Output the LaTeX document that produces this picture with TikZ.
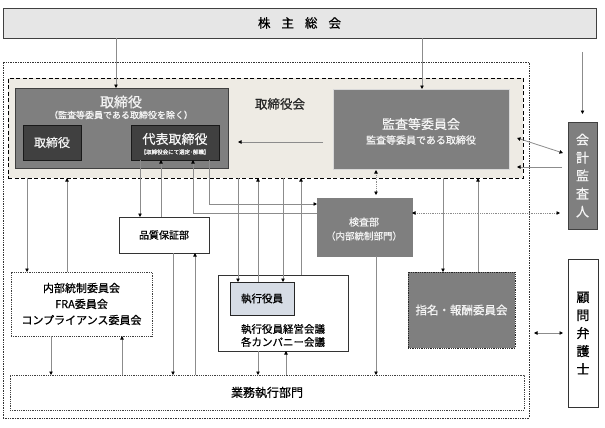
\documentclass[tikz,border=0pt]{standalone}
\usepackage{fontspec}
\newfontfamily\cjk[FakeBold=0.7]{Noto Sans CJK JP}
\usetikzlibrary{arrows.meta,calc}
\definecolor{gbox}{HTML}{7F7F7F}
\definecolor{dbox}{HTML}{404040}
\definecolor{beige}{HTML}{EEEBE4}
\definecolor{lgray}{HTML}{8C8C8C}
\definecolor{kabufill}{HTML}{E6E6E6}
\definecolor{bluegray}{HTML}{D6DCE5}
\definecolor{wtext}{HTML}{F4F4F4}
\newcommand\fsz[1]{\cjk\fontsize{#1}{#1}\selectfont}
\newcommand\fszl[2]{\cjk\fontsize{#1}{#2}\selectfont}
\tikzset{
  every node/.style={inner sep=0pt, outer sep=0pt, font=\cjk},
  kabubox/.style={draw=black!75, fill=kabufill, line width=0.8pt},
  groupbox/.style={draw=black!80, densely dotted, line width=0.7pt},
  boardbox/.style={draw=black, dash pattern=on 4pt off 2.5pt, line width=0.9pt, fill=beige},
  graybox/.style={fill=gbox, draw=black!75, line width=0.8pt},
  kansabox/.style={fill=gbox, draw=black!15, line width=0.8pt},
  plaingray/.style={fill=gbox, draw=gbox, line width=0.6pt},
  darkbox/.style={fill=dbox, draw=black!90, line width=0.8pt},
  whitebox/.style={fill=white, draw=black!80, line width=0.8pt},
  dotbox/.style={fill=white, draw=black!75, densely dotted, line width=0.8pt},
  dotgray/.style={fill=gbox, draw=black!85, densely dotted, line width=0.8pt},
  bluebox/.style={fill=bluegray, draw=black!85, line width=0.8pt},
  conn/.style={draw=lgray, line width=0.8pt},
  arr/.style={conn, -{Triangle[length=3.5pt,width=3.5pt,color=black]}},
  darr/.style={conn, {Triangle[length=3.5pt,width=3.5pt,color=black]}-{Triangle[length=3.5pt,width=3.5pt,color=black]}},
  dotarr/.style={darr, densely dotted},
}
\newcommand\bx[7]{\node[#6, anchor=north west, minimum width={(#4-#2)*1pt}, minimum height={(#5-#3)*1pt}] (#1) at (#2,#3) {#7};}
\begin{document}
\begin{tikzpicture}[x=1pt,y=-1pt]
\useasboundingbox (0,0) rectangle (605,428);
% helper coordinates
\foreach \v in {27,51,67,116,122,140,161,173,193,195,209,238,258,283,286,301,376,422,443,478}
  {\coordinate (vx\v) at (\v,0);}
\foreach \h in {52,138,142,153,167,204,213,333}
  {\coordinate (hy\h) at (0,\h);}
% boxes
\bx{kabu}{3}{8}{596}{38}{kabubox}{\fsz{12.5}株\hspace{11pt}主\hspace{11pt}総\hspace{11pt}会}
\bx{group}{3}{62}{529}{418}{groupbox}{}
\bx{board}{8}{78}{523}{178}{boardbox}{}
\bx{tori}{15}{88}{228}{168}{graybox}{}
\bx{toriin}{23}{125}{81}{160}{darkbox}{\color{wtext}\fsz{12}取締役}
\bx{daihyo}{131}{125}{219}{160}{darkbox}{}
\bx{kansa}{333}{89}{509}{169}{kansabox}{}
\bx{kaikei}{568}{122}{597}{229}{graybox}{}
\bx{kensa}{317}{198}{412}{256}{plaingray}{}
\bx{hinshitsu}{119}{217}{209}{253}{whitebox}{\fsz{10}品質保証部}
\bx{naibu}{11}{272}{152}{336}{dotbox}{}
\bx{shikkou}{218}{275}{348}{351}{whitebox}{}
\bx{yakuin}{230}{282}{294}{315}{bluebox}{\fsz{10.5}執行役員}
\bx{shimei}{408}{272}{515}{348}{dotgray}{\color{wtext}\fsz{11.5}指名・報酬委員会}
\bx{komon}{568}{259}{598}{407}{whitebox}{}
\bx{gyomu}{10}{375}{524}{410}{dotbox}{\fsz{12}業務執行部門}
% texts
\node (t1) at (121,102) {\color{wtext}\fsz{14}取締役};
\node (t2) at (121,115) {\color{wtext}\fsz{9}（監査等委員である取締役を除く）};
\node (t3) at (175,139) {\color{wtext}\fsz{13}代表取締役};
\node (t4) at (175,152) {\color{wtext}\fsz{5.5}【取締役会にて選定･解職】};
\node (t5) at (280,104) {\color{black!85}\fsz{12.5}取締役会};
\node (t6) at (421,124) {\color{wtext}\fsz{13}監査等委員会};
\node (t7) at (421,140) {\color{wtext}\fsz{10}監査等委員である取締役};
\node[align=center, font=\fszl{13}{18}, text=wtext] (t8) at (kaikei.center) {会\\計\\監\\査\\人};
\node (t9) at (364,222) {\color{wtext}\fsz{10}検査部};
\node (t10) at (364,236) {\color{wtext}\fsz{9.5}（内部統制部門）};
\node[align=center, font=\fszl{11}{16}] (t11) at (naibu.center) {内部統制委員会\\FRA委員会\\コンプライアンス委員会};
\node (t12) at (283,329) {\fsz{10.5}執行役員経営会議};
\node (t13) at (283,342) {\fsz{10.5}各カンパニー会議};
\node[align=center, font=\fszl{13}{18}] (t14) at (komon.center) {顧\\問\\弁\\護\\士};
% connectors
\draw[arr] (kabu.south -| vx116) -- (tori.north -| vx116);
\draw[arr] (kabu.south -| vx422) -- (kansa.north -| vx422);
\draw[arr, shorten >=8pt] (kaikei.north |- hy52) -- (kaikei.north);
\draw[arr, shorten <=10pt, shorten >=10pt] (kansa.west |- hy142) -- (tori.east |- hy142);
\draw[darr] ($(board.east |- hy138)+(-6,0)$) -- ($(kaikei.west |- hy153)+(-5,0)$);
\draw[arr] ($(kaikei.west |- hy167)+(-6,0)$) -- ($(board.east |- hy167)+(-6,0)$);
\draw[dotarr, shorten >=8pt] (kensa.east |- hy213) -- (kaikei.west |- hy213);
\draw[dotarr, shorten <=1pt, shorten >=3pt] (kansa.south -| vx376) -- (kensa.north -| vx376);
\draw[arr] (board.south -| vx443) -- (shimei.north -| vx443);
\draw[arr] (shimei.north -| vx478) -- (board.south -| vx478);
\draw[arr] (board.south -| vx27) -- (naibu.north -| vx27);
\draw[arr] (naibu.north -| vx67) -- (board.south -| vx67);
\draw[arr] (naibu.south -| vx51) -- (gyomu.north -| vx51);
\draw[arr] (gyomu.north -| vx122) -- (naibu.south -| vx122);
\draw[arr] (daihyo.south -| vx140) -- (hinshitsu.north -| vx140);
\draw[arr] (hinshitsu.north -| vx161) -- (daihyo.south -| vx161);
\draw[arr] (daihyo.south -| vx209) |- (kensa.west |- hy204);
\draw[arr] (kensa.west |- hy213) -| (daihyo.south -| vx193);
\draw[arr] (hinshitsu.south -| vx173) -- (gyomu.north -| vx173);
\draw[arr] (gyomu.north -| vx195) -- (hinshitsu.south -| vx195);
\draw[arr] (board.south -| vx238) -- (yakuin.north -| vx238);
\draw[arr] (yakuin.north -| vx258) -- (board.south -| vx258);
\draw[arr] (board.south -| vx283) -- (yakuin.north -| vx283);
\draw[arr] (shikkou.north -| vx301) -- (board.south -| vx301);
\draw[arr] (shikkou.south -| vx258) -- (gyomu.north -| vx258);
\draw[arr] (gyomu.north -| vx286) -- (shikkou.south -| vx286);
\draw[arr] (kensa.south -| vx376) -- (gyomu.north -| vx376);
\draw[darr, shorten <=5pt, shorten >=5pt] (group.east |- hy333) -- (komon.west |- hy333);
\end{tikzpicture}
\end{document}
